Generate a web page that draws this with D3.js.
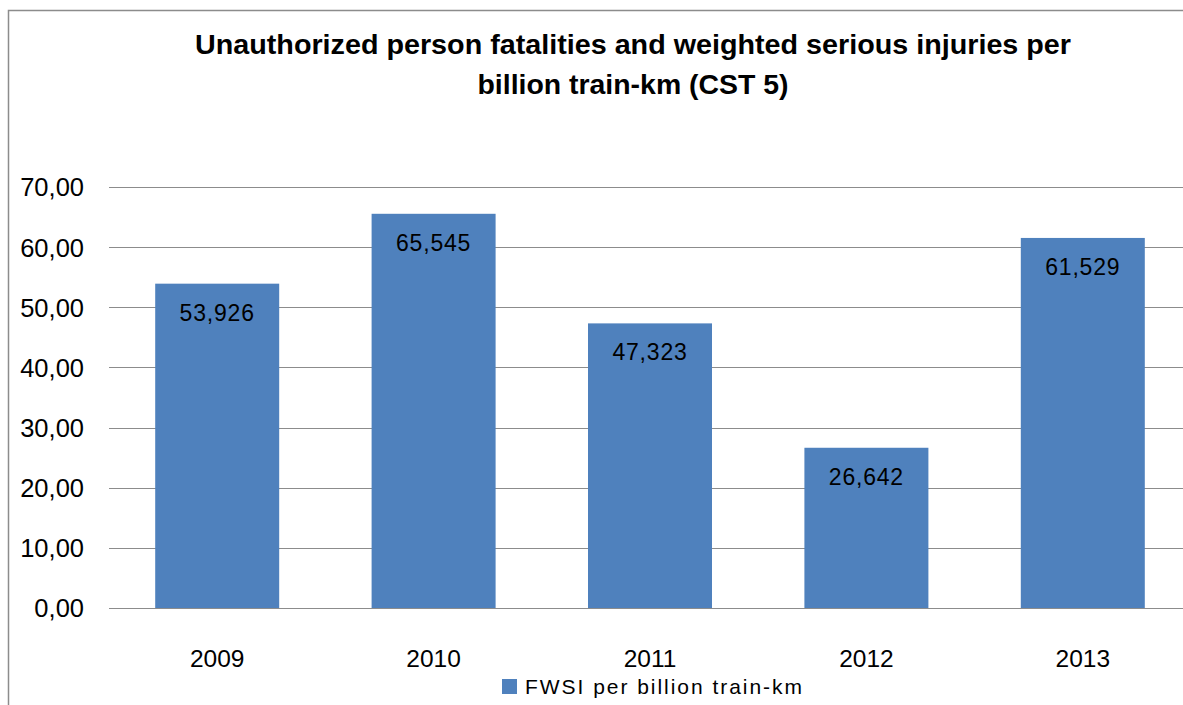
<!DOCTYPE html>
<html>
<head>
<meta charset="utf-8">
<script src="https://cdn.jsdelivr.net/npm/d3@7"></script>
<style>
  html, body { margin: 0; padding: 0; background: #fff; }
  svg { display: block; }
  text { font-family: "Liberation Sans", Arial, sans-serif; fill: #000; }
</style>
</head>
<body>
<svg id="chart" width="1183" height="705"></svg>
<script>
// Chart data
const years = ["2009", "2010", "2011", "2012", "2013"];
const fwsi = [53.926, 65.545, 47.323, 26.642, 61.529];
const yTicks = [0, 10, 20, 30, 40, 50, 60, 70];
const titleLines = [
  "Unauthorized person fatalities and weighted serious injuries per",
  "billion train-km (CST 5)"
];
const seriesName = "FWSI per billion train-km";

const W = 1183, H = 705;
const svg = d3.select("#chart");

// Comma as decimal separator
const locale = d3.formatLocale({ decimal: ",", thousands: ".", grouping: [3], currency: ["", ""] });
const fmtTick = locale.format(".2f");
const fmtVal = locale.format(".3f");

// Outer chart frame (continues past the right and bottom edges)
svg.append("path")
  .attr("d", `M8.5,${H + 2} V10.5 H${W + 2}`)
  .attr("fill", "none")
  .attr("stroke", "#8c8c8c")
  .attr("stroke-width", 1.5);

// Title
const title = svg.append("g");
titleLines.forEach((t, i) => {
  title.append("text")
    .attr("x", 633)
    .attr("y", 54 + i * 40)
    .attr("text-anchor", "middle")
    .attr("font-size", 27)
    .attr("font-weight", "bold")
    .attr("textLength", i === 0 ? 876 : 311)
    .attr("lengthAdjust", "spacingAndGlyphs")
    .text(t);
});

// Scales
const x = d3.scaleBand()
  .domain(years)
  .range([109, 1191])
  .paddingInner(0.427)
  .paddingOuter(0.2135);

const y = d3.scaleLinear()
  .domain([0, 70])
  .range([608, 187]);

// Gridlines
svg.append("g")
  .selectAll("line")
  .data(yTicks)
  .join("line")
  .attr("x1", 109)
  .attr("x2", 1191)
  .attr("y1", d => Math.round(y(d)) + 0.5)
  .attr("y2", d => Math.round(y(d)) + 0.5)
  .attr("stroke", "#8c8c8c")
  .attr("stroke-width", 1.2);

// Y axis labels
const yAxis = d3.axisLeft(y).tickValues(yTicks).tickFormat(fmtTick).tickSize(0).tickPadding(0);
const gy = svg.append("g").attr("transform", "translate(84,0)").call(yAxis);
gy.select(".domain").remove();
gy.selectAll("text")
  .attr("font-size", 25.5)
  .attr("font-family", "Liberation Sans, Arial, sans-serif")
  .attr("fill", "#000")
  .attr("dy", "0.35em");

// Bars
svg.append("g")
  .selectAll("rect")
  .data(fwsi)
  .join("rect")
  .attr("x", (d, i) => x(years[i]))
  .attr("y", d => y(d))
  .attr("width", x.bandwidth())
  .attr("height", d => y(0) - y(d))
  .attr("fill", "#4f81bd");

// Value labels inside the bar tops
svg.append("g")
  .selectAll("text")
  .data(fwsi)
  .join("text")
  .attr("x", (d, i) => x(years[i]) + x.bandwidth() / 2)
  .attr("y", d => y(d) + 29)
  .attr("dy", "0.35em")
  .attr("text-anchor", "middle")
  .attr("font-size", 23)
  .attr("letter-spacing", 0.8)
  .text(d => fmtVal(d));

// X axis labels
const xAxis = d3.axisBottom(x).tickSize(0).tickPadding(0);
const gx = svg.append("g").attr("transform", "translate(0,658)").call(xAxis);
gx.select(".domain").remove();
gx.selectAll("text")
  .attr("font-size", 24.5)
  .attr("font-family", "Liberation Sans, Arial, sans-serif")
  .attr("fill", "#000")
  .attr("dy", "0.35em");

// Legend
const legend = svg.append("g").attr("transform", "translate(502,679)");
legend.append("rect")
  .attr("width", 15)
  .attr("height", 15)
  .attr("fill", "#4f81bd");
legend.append("text")
  .attr("x", 23)
  .attr("y", 8)
  .attr("dy", "0.35em")
  .attr("font-size", 21)
  .attr("textLength", 277)
  .attr("lengthAdjust", "spacing")
  .text(seriesName);
</script>
</body>
</html>
